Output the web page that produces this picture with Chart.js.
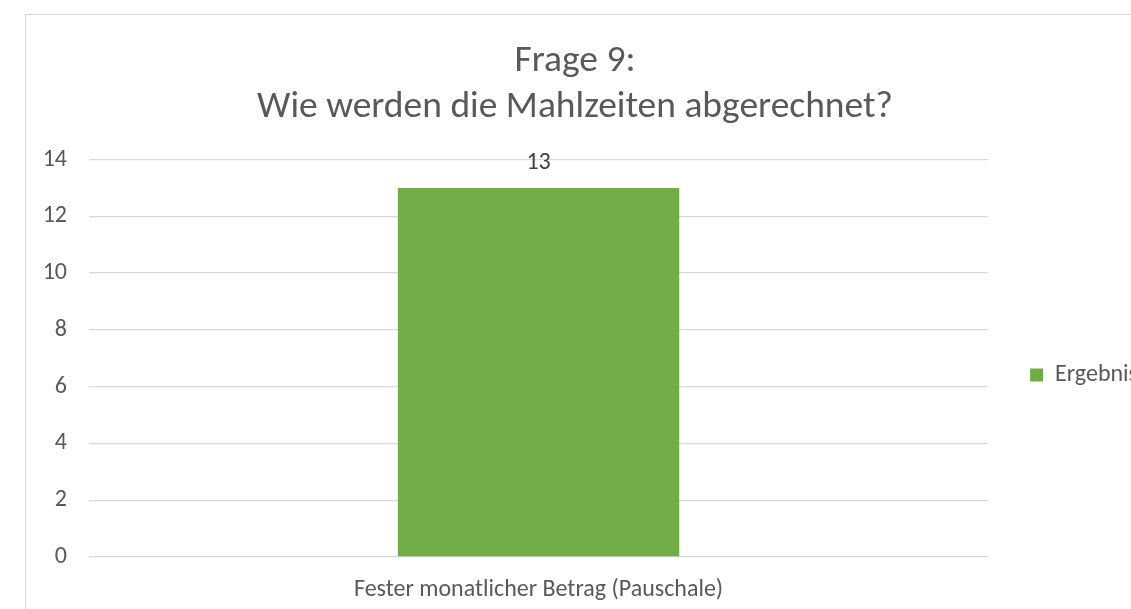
<!DOCTYPE html>
<html><head><meta charset="utf-8">
<script src="https://cdn.jsdelivr.net/npm/chart.js@4/dist/chart.umd.min.js"></script>
<style>
html,body{margin:0;padding:0;background:#fff;overflow:hidden;width:1131px;height:609px;}
#frame{position:absolute;left:25px;top:14px;width:1200px;height:700px;border:1px solid #d9d9d9;box-sizing:border-box;}
#wrap{position:absolute;left:2px;top:15px;width:1180px;height:594px;}
</style></head><body>
<div id="frame"></div>
<div id="wrap"><canvas id="c"></canvas></div>
<script>
const titleLines = ["Frage 9:", "Wie werden die Mahlzeiten abgerechnet?"];
const categories = ["Fester monatlicher Betrag (Pauschale)"];
const seriesName = "Ergebnis";
const values = [13];
const yMin = 0, yMax = 14, yStep = 2;

const FONT = "Carlito, Lato, 'Liberation Sans', sans-serif";
const valueLabels = {
  id: 'valueLabels',
  afterDatasetsDraw(chart) {
    const ctx = chart.ctx;
    chart.data.datasets.forEach((ds, di) => {
      chart.getDatasetMeta(di).data.forEach((bar, i) => {
        ctx.save();
        ctx.font = "24px " + FONT;
        ctx.fillStyle = "#404040";
        ctx.textAlign = "center";
        ctx.textBaseline = "middle";
        ctx.fillText(String(ds.data[i]), bar.x, bar.y - 25);
        ctx.restore();
      });
    });
  }
};

new Chart(document.getElementById('c'), {
  type: 'bar',
  data: {
    labels: categories,
    datasets: [{
      label: seriesName,
      data: values,
      backgroundColor: '#70AD47',
      borderWidth: 0,
      categoryPercentage: 1,
      barPercentage: 0.313
    }]
  },
  options: {
    responsive: true,
    maintainAspectRatio: false,
    animation: false,
    layout: { padding: { left: 0, right: 34, top: 0, bottom: 0 } },
    plugins: {
      title: {
        display: true,
        text: titleLines,
        color: '#595959',
        font: { family: FONT, size: 37.5, weight: 'normal', lineHeight: 1.22 },
        padding: { top: 24, bottom: 29 }
      },
      legend: {
        position: 'right',
        title: { display: true, text: ' ', font: { size: 10, lineHeight: 1 }, padding: { top: 0, bottom: 116 } },
        labels: {
          boxWidth: 13, boxHeight: 13, padding: 42,
          color: '#595959',
          font: { family: FONT, size: 24 }
        }
      },
      tooltip: { enabled: false }
    },
    scales: {
      x: {
        grid: { display: false, drawTicks: false },
        border: { display: false },
        ticks: { color: '#595959', font: { family: FONT, size: 24 }, padding: 19 },
        afterFit(scale) { scale.height = 52; }
      },
      y: {
        min: yMin, max: yMax,
        ticks: { stepSize: yStep, color: '#595959', font: { family: FONT, size: 24 }, padding: 22 },
        grid: { color: '#d9d9d9', lineWidth: 1.3, drawTicks: false },
        border: { display: false },
        afterFit(scale) { scale.width = 87; }
      }
    }
  },
  plugins: [valueLabels]
});
</script>
</body></html>
